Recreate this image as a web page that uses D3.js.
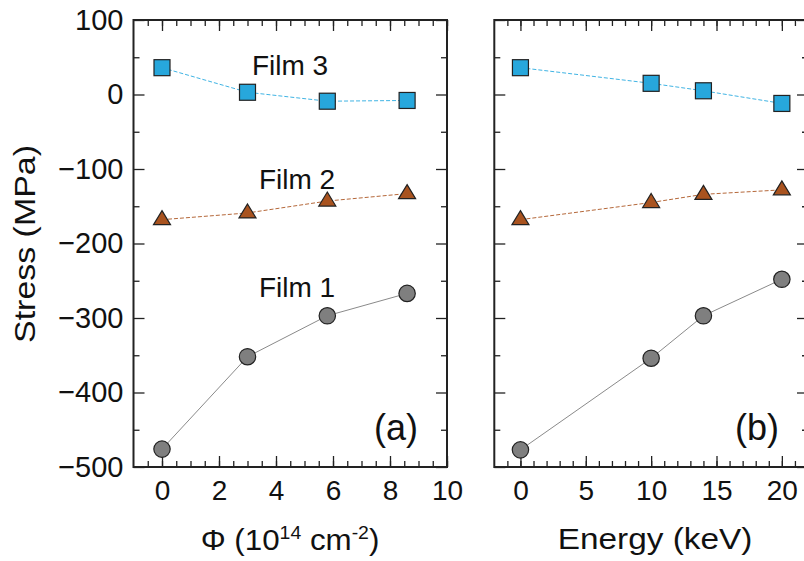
<!DOCTYPE html>
<html>
<head>
<meta charset="utf-8">
<script src="https://cdn.jsdelivr.net/npm/d3@7"></script>
<style>
  body { margin: 0; background: #fff; }
  svg text { font-family: "Liberation Sans", Arial, sans-serif; fill: #111; }
</style>
</head>
<body>
<div id="chart"></div>
<script>
// stress vs fluence (a) and vs energy (b), three films
const fluence = [0, 3, 5.8, 8.6];
const energy = [0, 10, 14, 20];

const film1A = [-476, -352, -297, -267];
const film2A = [-168, -159, -143, -133];
const film3A = [36, 3, -9, -8];

const film1B = [-477, -354, -297, -248];
const film2B = [-168, -145, -134, -128];
const film3B = [36, 15, 5, -12];

const yTicks = [100, 0, -100, -200, -300, -400, -500];
const xTicksA = [0, 2, 4, 6, 8, 10];
const xTicksB = [0, 5, 10, 15, 20];
const filmLabels = ["Film 1", "Film 2", "Film 3"];

const W = 804, H = 561;
const yTop = 20, yBot = 467;

const svg = d3.select("#chart").append("svg")
  .attr("width", W).attr("height", H);

const y = d3.scaleLinear().domain([-500, 100]).range([yBot, yTop]);

const styles = [
  { shape: "circle", fill: "#7f7f7f", line: "#8a8a8a", dash: null },
  { shape: "triangle", fill: "#a9531f", line: "#b5683a", dash: "4,2" },
  { shape: "square", fill: "#27a7dc", line: "#40b4e4", dash: "4,2" },
];

function marker(g, shape, fill, cx, cy) {
  if (shape === "circle") {
    g.append("circle").attr("cx", cx).attr("cy", cy).attr("r", 8.2)
      .attr("fill", fill).attr("stroke", "#222").attr("stroke-width", 1.2);
  } else if (shape === "square") {
    g.append("rect").attr("x", cx - 8).attr("y", cy - 8).attr("width", 16).attr("height", 16)
      .attr("fill", fill).attr("stroke", "#222").attr("stroke-width", 1.2);
  } else {
    g.append("path")
      .attr("d", `M${cx},${cy - 9}L${cx + 8.5},${cy + 5}L${cx - 8.5},${cy + 5}Z`)
      .attr("fill", fill).attr("stroke", "#222").attr("stroke-width", 1.2);
  }
}

// horizontally stretched text, as in the original figure
function wideText(parent, cx, cy, size, sx, html, rotate) {
  return parent.append("text")
    .attr("transform", `translate(${cx},${cy})${rotate ? " rotate(-90)" : ""} scale(${sx},1)`)
    .attr("text-anchor", "middle").style("font-size", size + "px")
    .html(html);
}

function panel(left, right, xDomain, xMajor, xMinorStep, xs, series, tag, showY) {
  const x = d3.scaleLinear().domain(xDomain).range([left, right]);
  const g = svg.append("g");
  const xMinor = d3.range(xDomain[0], xDomain[1] + 1e-9, xMinorStep).filter((v) => v > xDomain[0]);
  const yMinor = d3.range(-450, 100, 100);

  // ticks, inward on all four sides
  const tk = (axis, tr, vals, size) => g.append("g").attr("transform", tr)
    .call(axis.tickValues(vals).tickSize(size).tickFormat(""))
    .call((a) => a.select(".domain").remove())
    .selectAll("line").attr("stroke", "#222").attr("stroke-width", 1.3);

  tk(d3.axisBottom(x), `translate(0,${yBot})`, xMinor, -6);
  tk(d3.axisTop(x), `translate(0,${yTop})`, xMinor, -6);
  tk(d3.axisTop(x), `translate(0,${yTop})`, xMajor, -11);
  tk(d3.axisLeft(y), `translate(${left},0)`, yMinor, -6);
  tk(d3.axisLeft(y), `translate(${left},0)`, yTicks, -11);
  tk(d3.axisRight(y), `translate(${right},0)`, yMinor, -6);
  tk(d3.axisRight(y), `translate(${right},0)`, yTicks, -11);

  g.append("g").attr("transform", `translate(0,${yBot})`)
    .call(d3.axisBottom(x).tickValues(xMajor).tickSize(-11).tickPadding(13))
    .call((a) => a.select(".domain").remove())
    .call((a) => a.selectAll("line").attr("stroke", "#222").attr("stroke-width", 1.3))
    .selectAll("text").style("font-size", "28px").attr("fill", "#111");

  if (showY) {
    g.append("g").attr("transform", `translate(${left},0)`)
      .call(d3.axisLeft(y).tickValues(yTicks).tickSize(0).tickPadding(10)
        .tickFormat((d) => (d < 0 ? "\u2212" + Math.abs(d) : d)))
      .call((a) => a.select(".domain").remove())
      .selectAll("text").style("font-size", "29px").attr("fill", "#111");
  }

  g.append("rect")
    .attr("x", left).attr("y", yTop).attr("width", right - left).attr("height", yBot - yTop)
    .attr("fill", "none").attr("stroke", "#222").attr("stroke-width", 2);

  series.forEach((vals, i) => {
    const st = styles[i];
    const pts = xs.map((v, j) => [x(v), y(vals[j])]);
    g.append("path").attr("d", d3.line()(pts))
      .attr("fill", "none").attr("stroke", st.line).attr("stroke-width", 1)
      .attr("stroke-dasharray", st.dash);
    pts.forEach(([cx, cy]) => marker(g, st.shape, st.fill, cx, cy));
  });

  g.append("text")
    .attr("x", right - 29).attr("y", y(-450) + 10)
    .attr("text-anchor", "end").style("font-size", "36px").text(tag);

  return { x, g };
}

panel(133.5, 447, [-1, 10], xTicksA, 0.5, fluence, [film1A, film2A, film3A], "(a)", true);
panel(494.3, 808, [-2, 22], xTicksB, 1, energy, [film1B, film2B, film3B], "(b)", false);

wideText(svg, 290, 550, 29, 1.08,
  'Φ (10<tspan dy="-11" font-size="18">14</tspan><tspan dy="11"> cm</tspan><tspan dy="-11" font-size="18">-2</tspan><tspan dy="11">)</tspan>');
wideText(svg, 655, 549, 29, 1.15, "Energy (keV)");

// film labels on panel (a)
const labelVal = [-272, -127, 26];
const labelX = [297, 297, 290];
filmLabels.forEach((t, i) => {
  svg.append("text")
    .attr("x", labelX[i]).attr("y", y(labelVal[i]))
    .attr("text-anchor", "middle").style("font-size", "28px").text(t);
});

wideText(svg, 35, 244, 29, 1.17, "Stress (MPa)", true);
</script>
</body>
</html>
